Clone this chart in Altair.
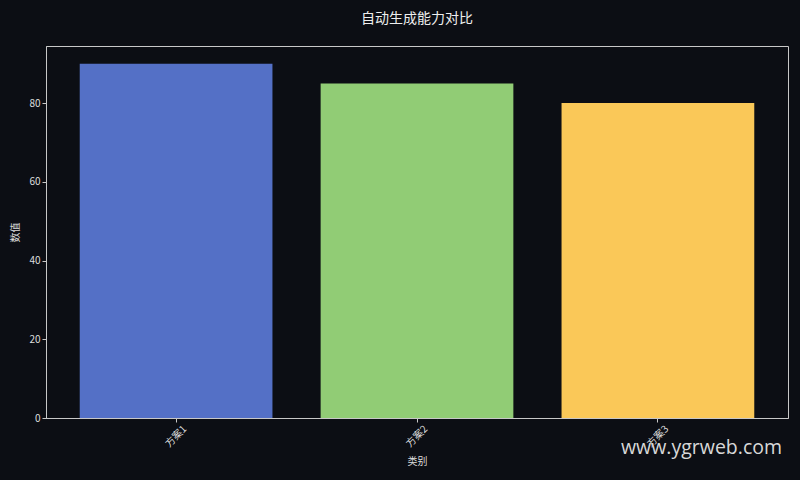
import altair as alt
import pandas as pd

categories = ["方案1", "方案2", "方案3"]
values = [90, 85, 80]
colors = ["#5470c6", "#91cc75", "#fac858"]

df = pd.DataFrame({"类别": categories, "数值": values})

FONT = "Noto Sans CJK SC"
BG = "#0c0e14"

bars = alt.Chart(df).mark_bar().encode(
    x=alt.X("类别:N", sort=categories,
            scale=alt.Scale(paddingInner=0.2, paddingOuter=0.14),
            axis=alt.Axis(title="类别", labelAngle=315, labelAlign="center",
                          labelBaseline="middle", labelPadding=14, tickSize=4,
                          titlePadding=8)),
    y=alt.Y("数值:Q", scale=alt.Scale(domain=[0, 94.5], nice=False),
            axis=alt.Axis(title="数值", values=[0, 20, 40, 60, 80], tickSize=4,
                          grid=False, titlePadding=8)),
    color=alt.Color("类别:N", scale=alt.Scale(domain=categories, range=colors), legend=None),
)

wm = alt.Chart(pd.DataFrame({"t": ["www.ygrweb.com"]})).mark_text(
    align="left", baseline="middle", fontSize=19.5, color="#d8d8d8",
    font="Open Sans", clip=False
).encode(x=alt.value(575), y=alt.value(402), text="t:N")

chart = alt.layer(bars, wm).properties(
    width=742, height=372,
    background=BG,
    padding={"left": 38, "top": 38, "right": 4, "bottom": 54},
    autosize=alt.AutoSizeParams(type="none"),
    title=alt.TitleParams("自动生成能力对比", fontSize=14, font=FONT, color="#eeeeee",
                          fontWeight="normal", anchor="middle", offset=20),
).configure_view(
    stroke="#c8c8c8", strokeWidth=1
).configure_axis(
    domainColor="#c8c8c8", tickColor="#c8c8c8", labelColor="#dddddd",
    titleColor="#dddddd", labelFont=FONT, titleFont=FONT, labelFontSize=10,
    titleFontSize=10, titleFontWeight="normal"
)

chart.save("out.html", embed_options={"renderer": "svg", "actions": False})

with open("out.html", encoding="utf-8") as f:
    html = f.read()
html = html.replace("<head>", "<head><style>html,body{background:%s;}</style>" % BG, 1)
with open("out.html", "w", encoding="utf-8") as f:
    f.write(html)
